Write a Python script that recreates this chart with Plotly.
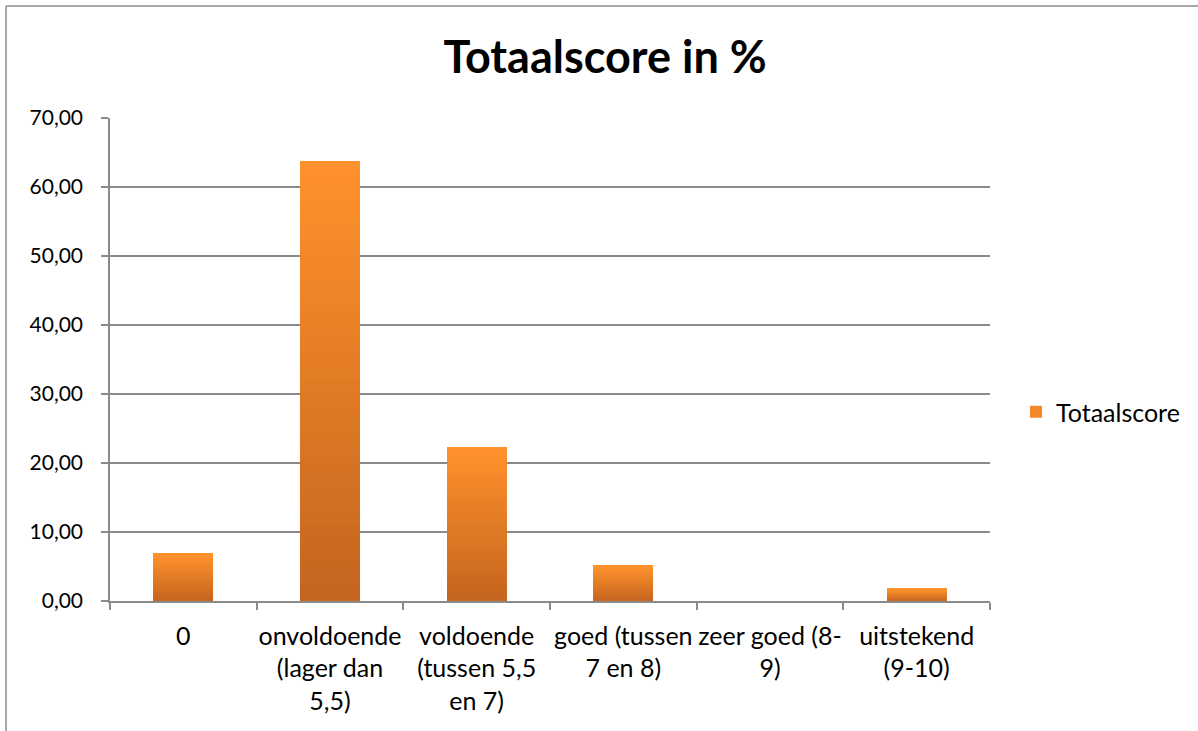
import plotly.graph_objects as go

categories = [
    "0",
    "onvoldoende<br>(lager dan<br>5,5)",
    "voldoende<br>(tussen 5,5<br>en 7)",
    "goed (tussen<br>7 en 8)",
    "zeer goed (8-<br>9)",
    "uitstekend<br>(9-10)",
]
values = [6.85, 63.8, 22.3, 5.1, 0.0, 1.75]
series_name = "Totaalscore"
y_ticks = [0, 10, 20, 30, 40, 50, 60, 70]

FONT = "Lato, 'Open Sans', sans-serif"
GRID = "#8a8a8a"

# vertical gradient per bar: dark at bottom, light at top
N = 40
bottom = (196, 100, 30)
top = (255, 146, 44)
LEGEND_SEG = int(0.8 * N)

def mix(t):
    return "rgb(%d,%d,%d)" % tuple(round(b + (tp - b) * t) for b, tp in zip(bottom, top))

fig = go.Figure()
for i in range(N):
    t = (i + 0.5) / N
    is_leg = i == LEGEND_SEG
    fig.add_trace(go.Bar(
        x=categories,
        y=[v / N for v in values],
        customdata=values,
        name=series_name,
        marker=dict(color=mix(t), line=dict(width=0)),
        showlegend=is_leg,
        legendgroup="s",
        hovertemplate="%{customdata:.2f}<extra>" + series_name + "</extra>",
    ))

fig.update_layout(
    width=1198,
    height=731,
    barmode="stack",
    bargap=0.59,
    paper_bgcolor="white",
    plot_bgcolor="white",
    margin=dict(l=110, r=208, t=118, b=130),
    font=dict(family=FONT, size=22, color="#000000"),
    separators=",.",
    hovermode="closest",
    title=dict(
        text="<b>Totaalscore in %</b>",
        x=0.505, xref="container", xanchor="center",
        y=1 - 57 / 731, yref="container", yanchor="middle",
        font=dict(family=FONT, size=45, color="#000000"),
    ),
    legend=dict(
        x=(1016 - 110) / 880, xanchor="left",
        y=(601 - 412) / 483, yanchor="middle",
        font=dict(family=FONT, size=25, color="#000000"),
        bgcolor="rgba(0,0,0,0)",
    ),
    showlegend=True,
)

fig.update_yaxes(
    range=[0, 70],
    tickvals=y_ticks,
    tickformat=".2f",
    tickfont=dict(size=21),
    showgrid=True,
    gridcolor=GRID,
    gridwidth=1.5,
    showline=True,
    linecolor=GRID,
    linewidth=1.5,
    ticks="outside",
    ticklen=7,
    tickcolor=GRID,
    tickwidth=1.5,
    ticklabelstandoff=14,
    zeroline=False,
    fixedrange=True,
)
fig.update_xaxes(
    type="category",
    range=[-0.5, len(categories) - 0.5],
    tickfont=dict(size=25),
    showgrid=False,
    showline=True,
    linecolor=GRID,
    linewidth=1.5,
    ticks="outside",
    tickson="boundaries",
    ticklen=7,
    tickcolor=GRID,
    tickwidth=1.5,
    ticklabelstandoff=12,
    tickangle=0,
    fixedrange=True,
)

# chart-area border (top and left edges visible in the reference)
fig.add_shape(type="line", xref="paper", yref="paper",
              x0=(6 - 110) / 880, x1=(1198 - 110) / 880,
              y0=1 + (118 - 6) / 483, y1=1 + (118 - 6) / 483,
              line=dict(color=GRID, width=1.5))
fig.add_shape(type="line", xref="paper", yref="paper",
              x0=(6 - 110) / 880, x1=(6 - 110) / 880,
              y0=1 + (118 - 6) / 483, y1=-(731 - 601) / 483,
              line=dict(color=GRID, width=1.5))

fig.write_html("out.html", config={"displayModeBar": False},
               post_script="document.body.style.margin='0';")
